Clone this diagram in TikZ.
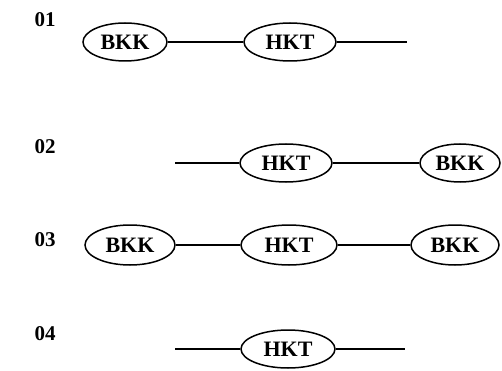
\documentclass[tikz,border=0pt]{standalone}
\usepackage{fontspec}
\setmainfont{Liberation Serif}
\usetikzlibrary{shapes.geometric}
\begin{document}
\begin{tikzpicture}[x=1pt,y=-1pt,
  city/.style={draw,ellipse,line width=1.5pt,inner sep=0pt,font=\fontsize{22}{24}\selectfont\bfseries},
  rowlabel/.style={font=\fontsize{21}{23}\selectfont\bfseries,inner sep=0pt},
  link/.style={line width=1.3pt}]
\useasboundingbox (0,0) rectangle (502,371);
% row 01
\node[rowlabel] (l1) at (45,20) {01};
\node[city,minimum width=84,minimum height=38] (a1) at (125,42) {BKK};
\node[city,minimum width=92,minimum height=38] (b1) at (290,42) {HKT};
\coordinate (e1) at (407,42);
\draw[link] (a1) -- (b1);
\draw[link] (b1.east) -- (e1);
% row 02
\node[rowlabel] (l2) at (45,147) {02};
\coordinate (s2) at (175,163);
\node[city,minimum width=92,minimum height=38] (b2) at (286,163) {HKT};
\node[city,minimum width=80,minimum height=38] (c2) at (460,163) {BKK};
\draw[link] (s2) -- (b2.west);
\draw[link] (b2) -- (c2);
% row 03
\node[rowlabel] (l3) at (45,240) {03};
\node[city,minimum width=90,minimum height=40] (a3) at (130,245) {BKK};
\node[city,minimum width=96,minimum height=40] (b3) at (289,245) {HKT};
\node[city,minimum width=88,minimum height=40] (c3) at (455,245) {BKK};
\draw[link] (a3) -- (b3);
\draw[link] (b3) -- (c3);
% row 04
\node[rowlabel] (l4) at (45,334) {04};
\coordinate (s4) at (175,349);
\node[city,minimum width=94,minimum height=38] (b4) at (288,349) {HKT};
\coordinate (e4) at (405,349);
\draw[link] (s4) -- (b4.west);
\draw[link] (b4.east) -- (e4);
\end{tikzpicture}
\end{document}
